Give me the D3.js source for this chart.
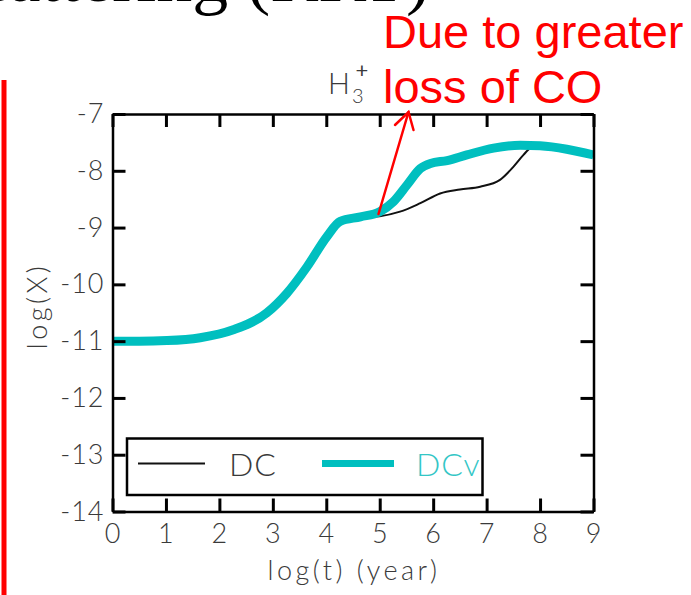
<!DOCTYPE html>
<html>
<head>
<meta charset="utf-8">
<script src="https://cdn.jsdelivr.net/npm/d3@7"></script>
<style>
  html, body { margin: 0; padding: 0; background: #fff; }
  svg { display: block; }
</style>
</head>
<body>
<svg id="chart" width="691" height="595"></svg>
<script>
// log(t) in years and log abundance of H3+ for the two models
const dcvT = [0, 0.5, 1.02, 1.64, 2.26, 2.89, 3.26, 3.64, 4.01, 4.26, 4.64, 5.0, 5.26, 5.51, 5.76, 5.95, 6.26, 6.63, 7.13, 7.63, 8.0, 8.5, 9.0];
const dcvX = [-11.0, -11.0, -10.99, -10.94, -10.8, -10.5, -10.16, -9.69, -9.16, -8.89, -8.81, -8.72, -8.54, -8.25, -7.96, -7.87, -7.82, -7.72, -7.6, -7.55, -7.56, -7.62, -7.72];

const dcT = [0, 0.5, 1.02, 1.64, 2.26, 2.89, 3.26, 3.64, 4.01, 4.26, 4.64, 5.0, 5.38, 5.76, 6.13, 6.5, 6.88, 7.25, 7.5, 7.69, 7.82, 8.0, 8.5, 9.0];
const dcX = [-11.0, -11.0, -10.99, -10.94, -10.8, -10.5, -10.16, -9.69, -9.16, -8.89, -8.82, -8.8, -8.72, -8.57, -8.4, -8.33, -8.28, -8.16, -7.93, -7.72, -7.6, -7.56, -7.62, -7.72];

const xTicks = [0, 1, 2, 3, 4, 5, 6, 7, 8, 9];
const yTicks = [-7, -8, -9, -10, -11, -12, -13, -14];
const seriesNames = ["DC", "DCv"];

const svg = d3.select("#chart");
const fontUI = "Lato, 'Open Sans', 'DejaVu Sans', sans-serif";
const inkUI = "#3a3a3a";
const teal = "#00bfbf";

const plot = { left: 112.5, right: 593.5, top: 114, bottom: 511.5 };
const x = d3.scaleLinear().domain([0, 9]).range([plot.left, plot.right]);
const y = d3.scaleLinear().domain([-14, -7]).range([plot.bottom, plot.top]);

// Slide title, running off the top edge
svg.append("text")
  .attr("x", 430).attr("y", 1)
  .attr("text-anchor", "end")
  .attr("font-family", "'Liberation Serif', 'DejaVu Serif', serif")
  .attr("font-size", 72)
  .attr("fill", "#000")
  .text("Scattering (RRT)");

// Red side bar
svg.append("rect")
  .attr("x", 1.5).attr("y", 80).attr("width", 5).attr("height", 520)
  .attr("fill", "#ff0000");

// Clip curves to the frame
svg.append("defs").append("clipPath").attr("id", "frame")
  .append("rect")
  .attr("x", plot.left).attr("y", plot.top)
  .attr("width", plot.right - plot.left).attr("height", plot.bottom - plot.top);

const line = d3.line()
  .x(d => x(d[0]))
  .y(d => y(d[1]))
  .curve(d3.curveMonotoneX);

const curves = svg.append("g").attr("clip-path", "url(#frame)");

// thin DC curve first, the thick DCv curve covers it where they agree
curves.append("path")
  .datum(dcT.map((t, i) => [t, dcX[i]]))
  .attr("d", line)
  .attr("fill", "none")
  .attr("stroke", "#111")
  .attr("stroke-width", 2)
  .attr("stroke-linejoin", "round");

curves.append("path")
  .datum(dcvT.map((t, i) => [t, dcvX[i]]))
  .attr("d", line)
  .attr("fill", "none")
  .attr("stroke", teal)
  .attr("stroke-width", 9)
  .attr("stroke-linejoin", "round");

// Axes: ticks point inward on all four sides
const tickLen = 13;
function styleAxis(g) {
  g.selectAll(".domain").attr("stroke", "#000").attr("stroke-width", 2.5);
  g.selectAll(".tick line").attr("stroke", "#000").attr("stroke-width", 3);
  g.selectAll(".tick text")
    .attr("font-family", fontUI)
    .attr("font-weight", 300)
    .attr("font-size", 27)
    .attr("letter-spacing", 1)
    .attr("fill", inkUI);
}

svg.append("g")
  .attr("transform", `translate(0,${plot.bottom})`)
  .call(d3.axisBottom(x).tickValues(xTicks).tickFormat(d => String(d))
    .tickSizeInner(-tickLen).tickSizeOuter(0).tickPadding(12))
  .call(styleAxis);

svg.append("g")
  .attr("transform", `translate(0,${plot.top})`)
  .call(d3.axisTop(x).tickValues(xTicks).tickFormat(() => "")
    .tickSizeInner(-tickLen).tickSizeOuter(0))
  .call(styleAxis);

svg.append("g")
  .attr("transform", `translate(${plot.left},0)`)
  .call(d3.axisLeft(y).tickValues(yTicks).tickFormat(d => String(d))
    .tickSizeInner(-tickLen).tickSizeOuter(0).tickPadding(8))
  .call(styleAxis);

svg.append("g")
  .attr("transform", `translate(${plot.right},0)`)
  .call(d3.axisRight(y).tickValues(yTicks).tickFormat(() => "")
    .tickSizeInner(-tickLen).tickSizeOuter(0))
  .call(styleAxis);

// Axis titles
svg.append("text")
  .attr("x", 354).attr("y", 580)
  .attr("text-anchor", "middle")
  .attr("font-family", fontUI).attr("font-weight", 300)
  .attr("font-size", 27).attr("letter-spacing", 3.5).attr("fill", inkUI)
  .text("log(t) (year)");

svg.append("text")
  .attr("transform", "translate(47,306) rotate(-90)")
  .attr("text-anchor", "middle")
  .attr("font-family", fontUI).attr("font-weight", 300)
  .attr("font-size", 27).attr("letter-spacing", 3.5).attr("fill", inkUI)
  .text("log(X)");

// Species label H3+
const species = svg.append("text")
  .attr("x", 328).attr("y", 94)
  .attr("font-family", fontUI).attr("font-weight", 300)
  .attr("font-size", 29).attr("fill", inkUI);
species.append("tspan").text("H");
species.append("tspan").attr("font-size", 20).attr("dx", 2).attr("dy", 9).text("3");
species.append("tspan").attr("font-size", 22).attr("font-weight", 400).attr("dx", -8).attr("dy", -25).text("+");

// Legend
const legend = svg.append("g");
legend.append("rect")
  .attr("x", 127).attr("y", 438.5).attr("width", 355.5).attr("height", 56.5)
  .attr("fill", "#fff").attr("stroke", "#000").attr("stroke-width", 2.5);
const legY = 463.5;
legend.append("line")
  .attr("x1", 138).attr("x2", 205).attr("y1", legY).attr("y2", legY)
  .attr("stroke", "#111").attr("stroke-width", 2);
legend.append("text")
  .attr("x", 229).attr("y", 476)
  .attr("font-family", fontUI).attr("font-weight", 300)
  .attr("font-size", 32).attr("letter-spacing", 1).attr("fill", inkUI)
  .text(seriesNames[0]);
legend.append("line")
  .attr("x1", 322).attr("x2", 394).attr("y1", legY).attr("y2", legY)
  .attr("stroke", teal).attr("stroke-width", 7);
legend.append("text")
  .attr("x", 416).attr("y", 476)
  .attr("font-family", fontUI).attr("font-weight", 300)
  .attr("font-size", 32).attr("letter-spacing", 1).attr("fill", "#33c6c6")
  .text(seriesNames[1]);

// Annotation
const note = svg.append("text")
  .attr("font-family", "'Liberation Sans', Arial, sans-serif")
  .attr("font-size", 47).attr("fill", "#ff0000");
note.append("tspan").attr("x", 383).attr("y", 48).text("Due to greater");
note.append("tspan").attr("x", 383).attr("y", 103).text("loss of CO");

const ann = svg.append("g")
  .attr("stroke", "#ff0000").attr("stroke-width", 2.5)
  .attr("fill", "none").attr("stroke-linecap", "round");
ann.append("line").attr("x1", 378.5).attr("y1", 214).attr("x2", 408.5).attr("y2", 112);
ann.append("polyline").attr("points", "395,125 408.5,112 413.5,130");
</script>
</body>
</html>
